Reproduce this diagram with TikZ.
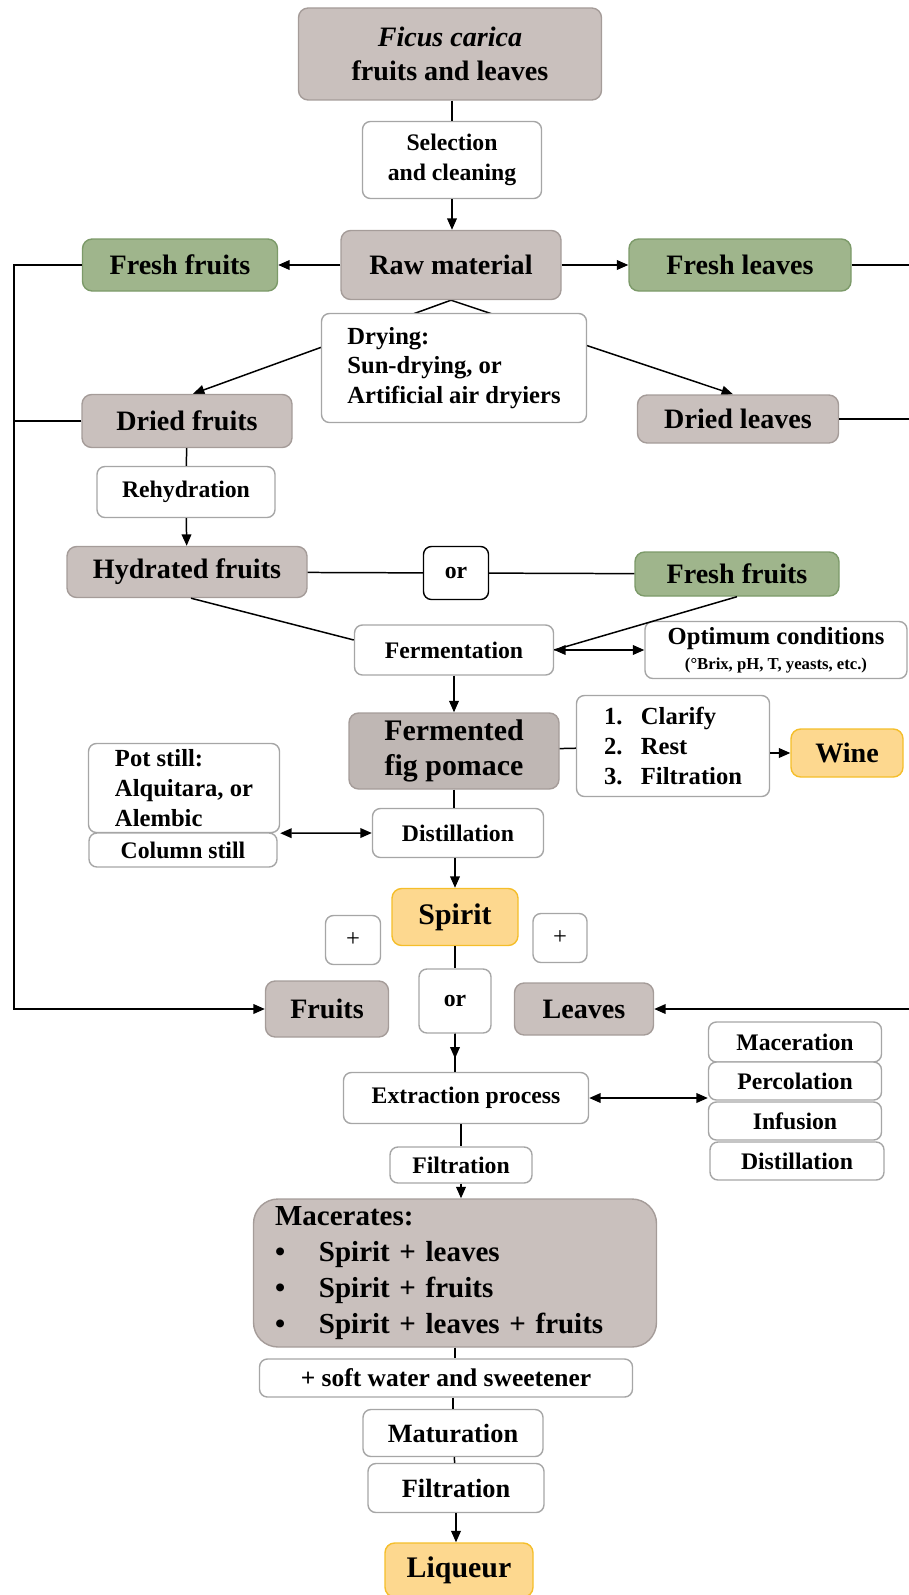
\documentclass[tikz,border=0pt]{standalone}
\usepackage{fontspec}
\setmainfont{Liberation Serif}
\usetikzlibrary{arrows.meta,backgrounds,calc}

\definecolor{figgrey}{HTML}{C9C0BD}
\definecolor{greyline}{HTML}{A59C99}
\definecolor{pomgrey}{HTML}{BFB7B4}
\definecolor{leafgreen}{HTML}{9FB58C}
\definecolor{greenline}{HTML}{7C9A69}
\definecolor{gold}{HTML}{FDD88F}
\definecolor{goldline}{HTML}{F5BE2A}
\definecolor{boxline}{HTML}{A6A6A6}

\newcommand{\midfont}{\bfseries\fontsize{13.5}{17}\selectfont}
\newcommand{\bigfont}{\bfseries\fontsize{16}{19}\selectfont}

\tikzset{
  wh/.style n args={2}{minimum width=#1*0.02cm, minimum height=#2*0.02cm},
  whitebox/.style={draw=boxline, fill=white, line width=0.8pt, rounded corners=4.5pt,
    inner sep=1pt, align=center, font=\midfont},
  greybox/.style={whitebox, draw=greyline, fill=figgrey, rounded corners=5.5pt, font=\bigfont},
  greenbox/.style={greybox, draw=greenline, fill=leafgreen},
  goldbox/.style={greybox, draw=goldline, fill=gold},
  arr/.style={-{Triangle[length=6.5pt,width=5.5pt]}, line width=0.85pt},
  arrs/.style={{Triangle[length=6.5pt,width=5.5pt]}-{Triangle[length=6.5pt,width=5.5pt]}, line width=0.85pt},
  link/.style={line width=0.85pt}
}

\begin{document}
\begin{tikzpicture}[x=0.02cm,y=-0.02cm]
  \useasboundingbox (0,0) rectangle (909,1595);

  % Raw material and its branches
  \node[greybox, wh={303}{92}] (ficus) at (450,54)
    {\textit{Ficus carica}\\fruits and leaves};
  \node[whitebox, wh={179}{77}] (select) at (452,160) {Selection\\and cleaning};
  \node[greybox, wh={220}{69}] (raw) at (451,265) {Raw material};
  \node[greenbox, wh={195}{52}] (ffruit) at (180,265) {Fresh fruits};
  \node[greenbox, wh={222}{52}] (fleaf) at (740,265) {Fresh leaves};
  \node[whitebox, wh={265}{109}, align=left, font=\bfseries\fontsize{14}{17}\selectfont] (drying) at (454,368)
    {Drying:\\Sun-drying, or\\Artificial air dryiers};
  \node[greybox, wh={210}{53}] (dfruit) at (187,421) {Dried fruits};
  \node[greybox, wh={201}{48}] (dleaf) at (738,419) {Dried leaves};

  % Fermentation
  \node[whitebox, wh={178}{51}] (rehyd) at (186,492) {Rehydration};
  \node[greybox, wh={240}{51}] (hfruit) at (187,572) {Hydrated fruits};
  \node[whitebox, draw=black, wh={65}{53}] (orA) at (456,573) {or};
  \node[greenbox, wh={204}{44}] (ffruitB) at (737,574) {Fresh fruits};
  \node[whitebox, wh={199}{50}] (ferment) at (454,650) {Fermentation};
  \node[whitebox, wh={262}{57}, font=\bfseries\fontsize{14}{14}\selectfont] (optim) at (776,650)
    {Optimum conditions\\{\fontsize{9.5}{11}\selectfont (°Brix, pH, T, yeasts, etc.)}};
  \node[greybox, fill=pomgrey, wh={210}{76}, font=\bfseries\fontsize{17}{20}\selectfont] (pomace) at (454,751)
    {Fermented\\fig pomace};
  \node[whitebox, wh={193}{101}, align=left, font=\bfseries\fontsize{14}{17}\selectfont] (clarify) at (673,746)
    {\makebox[21pt][l]{1.}Clarify\\\makebox[21pt][l]{2.}Rest\\\makebox[21pt][l]{3.}Filtration};
  \node[goldbox, wh={112}{48}] (wine) at (847,753) {Wine};

  % Distillation
  \node[whitebox, wh={191}{89}, align=left, font=\bfseries\fontsize{14}{17}\selectfont] (potstill) at (184,788)
    {Pot still:\\Alquitara, or\\Alembic};
  \node[whitebox, wh={188}{34}] (column) at (183,850) {Column still};
  \node[whitebox, wh={171}{49}] (distil) at (458,833) {Distillation};
  \node[goldbox, wh={126}{57}, font=\bfseries\fontsize{17}{20}\selectfont] (spirit) at (455,917) {Spirit};
  \node[whitebox, wh={55}{49}, font=\mdseries\fontsize{14}{17}\selectfont] (plusL) at (353,940) {+};
  \node[whitebox, wh={54}{49}, font=\mdseries\fontsize{14}{17}\selectfont] (plusR) at (560,938) {+};
  \node[whitebox, wh={72}{64}] (orB) at (455,1001) {or};
  \node[greybox, wh={123}{56}] (fruits) at (327,1009) {Fruits};
  \node[greybox, wh={139}{52}] (leaves) at (584,1009) {Leaves};

  % Extraction
  \node[whitebox, wh={245}{51}] (extract) at (466,1098) {Extraction process};
  \node[whitebox, wh={173}{40}] (macer) at (795,1042) {Maceration};
  \node[whitebox, wh={173}{38}] (percol) at (795,1081) {Percolation};
  \node[whitebox, wh={173}{38}] (infus) at (795,1121) {Infusion};
  \node[whitebox, wh={174}{38}] (distilB) at (797,1161) {Distillation};
  \node[whitebox, wh={142}{36}] (filtA) at (461,1165) {Filtration};
  \node[greybox, rounded corners=14pt, wh={403}{148}, text width=7.2cm, inner xsep=0.43cm, align=left,
    font=\bfseries\fontsize{16.5}{20.5}\selectfont] (macerates) at (455,1273)
    {Macerates:\\
     \makebox[25pt][l]{\textbullet}Spirit + leaves\\
     \makebox[25pt][l]{\textbullet}Spirit + fruits\\
     \makebox[25pt][l]{\textbullet}Spirit + leaves + fruits};

  % Liqueur
  \node[whitebox, wh={373}{38}, font=\bfseries\fontsize{14.5}{17}\selectfont] (water) at (446,1378)
    {+ soft water and sweetener};
  \node[whitebox, wh={180}{47}, font=\bfseries\fontsize{15}{17}\selectfont] (matur) at (453,1433) {Maturation};
  \node[whitebox, wh={176}{49}, font=\bfseries\fontsize{15}{17}\selectfont] (filtB) at (456,1488) {Filtration};
  \node[goldbox, wh={148}{54}, font=\bfseries\fontsize{17}{20}\selectfont] (liqueur) at (459,1570) {Liqueur};

  % side lines
  \coordinate (ltop) at (14,265);
  \coordinate (lbot) at (14,1009);
  \coordinate (rtop) at (916,265);
  \coordinate (rbot) at (916,1009);

  % connectors
  \draw[link] (select.north |- ficus.south) -- (select);
  \draw[arr] (select) -- (select |- raw.north);
  \draw[arr] (raw) -- (ffruit);
  \draw[arr] (raw) -- (fleaf);
  \begin{scope}[on background layer]
    \draw[arr] (raw.south) -- ($(dfruit.north)+(6,0)$);
    \draw[arr] (raw.south) -- ($(dleaf.north)+(-5,0)$);
  \end{scope}
  \draw[arr] (ffruit.west) -- (ltop) -- (lbot) -- (fruits.west);
  \draw[link] (dfruit.west) -- (dfruit.west -| ltop);
  \draw[arr] (fleaf.east) -- (rtop) -- (rbot) -- (leaves.east);
  \draw[link] (dleaf.east) -- (dleaf.east -| rtop);
  \draw[link] (dfruit) -- (rehyd);
  \draw[arr] (rehyd) -- (hfruit);
  \draw[link] (hfruit) -- (orA) -- (ffruitB);
  \draw[link] ($(hfruit.south)+(4,0)$) -- ($(ferment.west)+(0,-10)$);
  \draw[link] (ffruitB.south) -- (ferment.east);
  \draw[arrs] (ferment) -- (optim);
  \draw[arr] (ferment) -- (pomace);
  \draw[link] (pomace) -- (clarify);
  \draw[arr] (clarify.east |- wine) -- (wine);
  \draw[link] (pomace) -- (pomace |- distil.north);
  \draw[arrs] (potstill.south east) -- (distil.west);
  \draw[arr] (spirit |- distil.south) -- (spirit);
  \draw[link] (spirit) -- (orB);
  \draw[link] (orB) -- (orB |- extract.north);
  \draw[arr] (orB.south) -- ($(orB.south)!0.65!(orB.south |- extract.north)$);
  \draw[arrs] (extract.east) -- (extract.east -| percol.west);
  \draw[link] (extract.south -| filtA) -- (filtA);
  \draw[arr] (filtA) -- (filtA |- macerates.north);
  \draw[link] (macerates.south) -- (macerates.south |- water.north);
  \draw[link] (matur.north |- water.south) -- (matur);
  \draw[link] (matur) -- (filtB);
  \draw[arr] (filtB) -- (filtB |- liqueur.north);
\end{tikzpicture}
\end{document}
